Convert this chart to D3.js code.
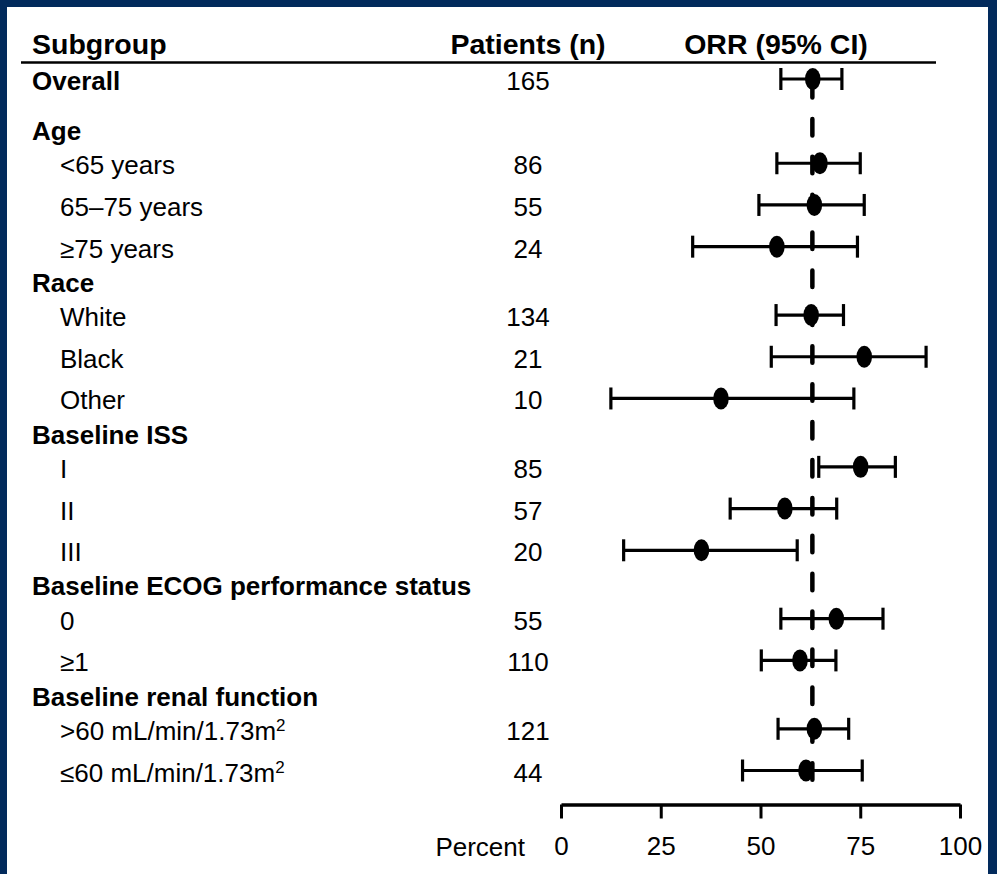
<!DOCTYPE html>
<html>
<head>
<meta charset="utf-8">
<script src="https://cdn.jsdelivr.net/npm/d3@7"></script>
<style>
  body { margin: 0; background: #022a5c; }
  svg { display: block; }
  text { font-family: "Liberation Sans", Arial, sans-serif; fill: #000; }
</style>
</head>
<body>
<svg width="997" height="874"></svg>
<script>
// table content, one entry per row
var labels = ["Overall", "Age", "<65 years", "65–75 years", "≥75 years",
    "Race", "White", "Black", "Other",
    "Baseline ISS", "I", "II", "III",
    "Baseline ECOG performance status", "0", "≥1",
    "Baseline renal function", ">60 mL/min/1.73m²", "≤60 mL/min/1.73m²"];
var kinds = ["overall", "header", "item", "item", "item",
    "header", "item", "item", "item",
    "header", "item", "item", "item",
    "header", "item", "item",
    "header", "item", "item"];
var patients = [165, null, 86, 55, 24, null, 134, 21, 10, null, 85, 57, 20, null, 55, 110, null, 121, 44];
var orr = [63.1, null, 64.9, 63.5, 54.1, null, 62.7, 76.0, 40.1, null, 75.1, 56.1, 35.2, null, 69.0, 59.9, null, 63.5, 61.4];
var ciLow = [55.1, null, 54.1, 49.6, 33.0, null, 53.9, 52.7, 12.5, null, 64.6, 42.4, 15.7, null, 55.1, 50.2, null, 54.4, 45.5];
var ciHigh = [70.4, null, 75.0, 76.0, 74.3, null, 70.8, 91.5, 73.4, null, 83.8, 69.1, 59.2, null, 80.7, 68.9, null, 72.1, 75.5];

var columnTitles = ["Subgroup", "Patients (n)", "ORR (95% CI)"];
var xTicks = [0, 25, 50, 75, 100];
var xTitle = "Percent";
var referenceValue = 63.0;

var svg = d3.select("svg");

// white panel inside the navy frame
svg.append("rect")
    .attr("x", 7).attr("y", 7)
    .attr("width", 981).attr("height", 867)
    .attr("fill", "#fff");

// row positions in "row units": headers sit between groups
var rows = [];
var pos = 0;
for (var i = 0; i < labels.length; i++) {
    if (i > 0) {
        if (kinds[i] == "header") pos += (kinds[i - 1] == "overall") ? 1.2 : 0.82;
        else if (kinds[i - 1] == "header") pos += 0.82;
        else pos += 1;
    }
    rows.push({
        label: labels[i],
        kind: kinds[i],
        n: patients[i],
        est: orr[i],
        lo: ciLow[i],
        hi: ciHigh[i],
        pos: pos
    });
}

var x = d3.scaleLinear().domain([0, 100]).range([561, 960]);
var y = d3.scaleLinear().domain([0, pos]).range([79, 770.5]);

// column headers
var head = svg.append("g").style("font-size", "28.5px").style("font-weight", "bold");
head.append("text").attr("x", 32).attr("y", 54).text(columnTitles[0]);
head.append("text").attr("x", 528).attr("y", 54).attr("text-anchor", "middle").text(columnTitles[1]);
head.append("text").attr("x", 776).attr("y", 54).attr("text-anchor", "middle").text(columnTitles[2]);

svg.append("line")
    .attr("x1", 21).attr("x2", 936)
    .attr("y1", 62.5).attr("y2", 62.5)
    .attr("stroke", "#000").attr("stroke-width", 2.5);

// row labels
var lab = svg.append("g").style("font-size", "26px");
lab.selectAll("text.label")
    .data(rows)
    .enter().append("text")
    .attr("class", "label")
    .attr("x", function(d) { return d.kind == "item" ? 60 : 32; })
    .attr("y", function(d) { return y(d.pos) + 11; })
    .style("font-weight", function(d) { return d.kind == "item" ? "normal" : "bold"; })
    .each(function(d) {
        var t = d3.select(this);
        if (d.label.slice(-1) == "²") {
            t.append("tspan").text(d.label.slice(0, -1));
            t.append("tspan")
                .attr("dy", -9)
                .style("font-size", "17px")
                .text("2");
        } else {
            t.text(d.label);
        }
    });

lab.selectAll("text.n")
    .data(rows.filter(function(d) { return d.n != null; }))
    .enter().append("text")
    .attr("class", "n")
    .attr("x", 528)
    .attr("y", function(d) { return y(d.pos) + 11; })
    .attr("text-anchor", "middle")
    .text(function(d) { return d.n; });

// forest plot
var data = rows.filter(function(d) { return d.est != null; });
var ci = svg.append("g").attr("stroke", "#000").attr("stroke-width", 3.2);

ci.selectAll("line.ci")
    .data(data)
    .enter().append("line")
    .attr("class", "ci")
    .attr("x1", function(d) { return x(d.lo); })
    .attr("x2", function(d) { return x(d.hi); })
    .attr("y1", function(d) { return y(d.pos); })
    .attr("y2", function(d) { return y(d.pos); });

ci.selectAll("line.lo")
    .data(data)
    .enter().append("line")
    .attr("class", "lo")
    .attr("x1", function(d) { return x(d.lo); })
    .attr("x2", function(d) { return x(d.lo); })
    .attr("y1", function(d) { return y(d.pos) - 11; })
    .attr("y2", function(d) { return y(d.pos) + 11; });

ci.selectAll("line.hi")
    .data(data)
    .enter().append("line")
    .attr("class", "hi")
    .attr("x1", function(d) { return x(d.hi); })
    .attr("x2", function(d) { return x(d.hi); })
    .attr("y1", function(d) { return y(d.pos) - 11; })
    .attr("y2", function(d) { return y(d.pos) + 11; });

svg.selectAll("ellipse.dot")
    .data(data)
    .enter().append("ellipse")
    .attr("class", "dot")
    .attr("cx", function(d) { return x(d.est); })
    .attr("cy", function(d) { return y(d.pos); })
    .attr("rx", 7.8)
    .attr("ry", 11)
    .attr("fill", "#000");

// dashed line at the overall ORR
svg.append("line")
    .attr("x1", x(referenceValue)).attr("x2", x(referenceValue))
    .attr("y1", y(0) + 2).attr("y2", y(pos) + 12)
    .attr("stroke", "#000")
    .attr("stroke-width", 4.5)
    .attr("stroke-linecap", "round")
    .attr("stroke-dasharray", "16.5 21.4");

// x axis
var axis = svg.append("g")
    .attr("transform", "translate(0,804.5)")
    .call(d3.axisBottom(x).tickValues(xTicks).tickSize(14).tickSizeOuter(0).tickPadding(18));

axis.select(".domain").attr("stroke", "#000").attr("stroke-width", 3.5);
axis.selectAll(".tick line").attr("stroke", "#000").attr("stroke-width", 3);
axis.selectAll(".tick text")
    .style("font-size", "26px")
    .style("font-family", "'Liberation Sans', Arial, sans-serif")
    .attr("fill", "#000");

svg.append("text")
    .attr("x", 525)
    .attr("y", 856)
    .attr("text-anchor", "end")
    .style("font-size", "26px")
    .text(xTitle);
</script>
</body>
</html>
